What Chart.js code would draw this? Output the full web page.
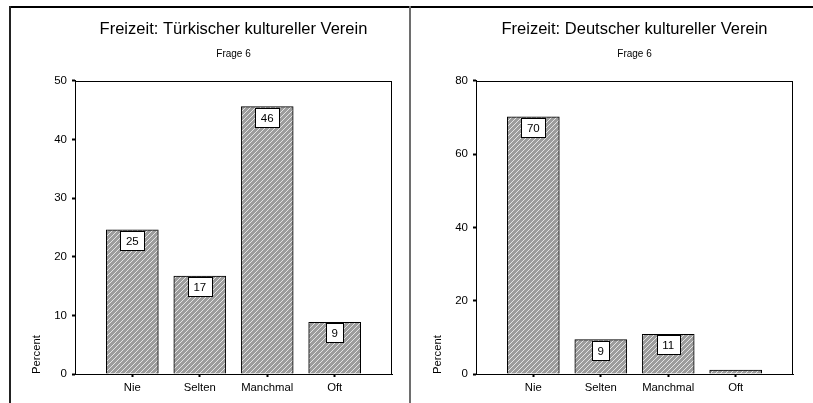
<!DOCTYPE html>
<html>
<head>
<meta charset="utf-8">
<script src="https://cdn.jsdelivr.net/npm/chart.js@4/dist/chart.umd.min.js"></script>
<style>
  html, body { margin: 0; padding: 0; background: #fff; }
  #wrap { position: relative; width: 813px; height: 403px; overflow: hidden; background: #fff; }
  .line { position: absolute; }
  canvas { position: absolute; }
</style>
</head>
<body>
<div id="wrap">
  <div class="line" style="left:9px; top:6px; width:804px; height:1.5px; background:#000;"></div>
  <div class="line" style="left:9px; top:6px; width:1.5px; height:397px; background:#222;"></div>
  <div class="line" style="left:409px; top:6px; width:2px; height:397px; background:#6e6e6e;"></div>
  <canvas id="c1" width="398" height="396" style="left:11px; top:7px;"></canvas>
  <canvas id="c2" width="401" height="396" style="left:412px; top:7px;"></canvas>
</div>
<script>
// ---- data ----
const categories = ['Nie', 'Selten', 'Manchmal', 'Oft'];
const tuerkischValues = [24.6, 16.7, 45.6, 8.8];
const tuerkischLabels = ['25', '17', '46', '9'];
const deutschValues = [70.2, 9.4, 10.8, 1.1];
const deutschLabels = ['70', '9', '11', ''];
const titleTuerkisch = 'Freizeit: Türkischer kultureller Verein';
const titleDeutsch = 'Freizeit: Deutscher kultureller Verein';
const subtitleText = 'Frage 6';
const yLabel = 'Percent';

const FONT = "'Liberation Sans', Arial, sans-serif";

function makePattern() {
  const s = 5;
  const c = document.createElement('canvas');
  c.width = s; c.height = s;
  const g = c.getContext('2d');
  g.fillStyle = '#9c9c9c';
  g.fillRect(0, 0, s, s);
  g.strokeStyle = 'rgba(245,245,245,0.9)';
  g.lineWidth = 0.9;
  g.beginPath();
  g.moveTo(-1, s + 1); g.lineTo(s + 1, -1);
  g.moveTo(-1, 1); g.lineTo(1, -1);
  g.moveTo(s - 1, s + 1); g.lineTo(s + 1, s - 1);
  g.stroke();
  return g.createPattern(c, 'repeat');
}

const frameAndLabels = {
  id: 'frameAndLabels',
  afterDatasetsDraw(chart, args, opts) {
    const ctx = chart.ctx;
    const a = chart.chartArea;
    ctx.save();
    ctx.strokeStyle = '#000';
    ctx.lineWidth = 1;
    ctx.strokeRect(Math.round(a.left) + 0.5, Math.round(a.top) + 0.5,
                   Math.round(a.right - a.left) - 1, Math.round(a.bottom - a.top));
    const labels = opts.labels || [];
    const meta = chart.getDatasetMeta(0);
    ctx.font = '11.5px ' + FONT;
    ctx.textAlign = 'center';
    ctx.textBaseline = 'middle';
    meta.data.forEach((bar, i) => {
      const txt = labels[i];
      if (!txt) return;
      const w = Math.round(ctx.measureText(txt).width) + 11;
      const h = 19;
      const x = Math.round(bar.x - w / 2) + 0.5;
      const y = Math.round(bar.y) + 1.5;
      ctx.fillStyle = '#fff';
      ctx.fillRect(x, y, w, h);
      ctx.strokeStyle = '#000';
      ctx.strokeRect(x, y, w, h);
      ctx.fillStyle = '#000';
      ctx.fillText(txt, bar.x, y + h / 2 + 0.5);
    });
    ctx.restore();
  }
};

function buildChart(id, values, labels, title, yMax, yStep, yWidth, rightPad) {
  const pattern = makePattern();
  return new Chart(document.getElementById(id), {
    type: 'bar',
    data: {
      datasets: [{
        data: categories.map((c, i) => ({ x: i + 1, y: values[i] })),
        backgroundColor: pattern,
        borderColor: '#000',
        borderWidth: 1,
        barThickness: 52
      }]
    },
    options: {
      responsive: false,
      animation: false,
      devicePixelRatio: 1,
      layout: { padding: { left: 0, right: rightPad, top: 0, bottom: 0 } },
      plugins: {
        legend: { display: false },
        tooltip: { enabled: false },
        title: {
          display: true, text: title, fullSize: false, color: '#000',
          font: { family: FONT, size: 16.5, weight: 'normal' },
          padding: { top: 13, bottom: 0 }
        },
        subtitle: {
          display: true, text: subtitleText, fullSize: false, color: '#000',
          font: { family: FONT, size: 10, weight: 'normal' },
          padding: { top: 8, bottom: 21 }
        },
        frameAndLabels: { labels: labels }
      },
      scales: {
        x: {
          type: 'linear',
          offset: false,
          min: 0.15, max: 4.85,
          afterBuildTicks: (s) => { s.ticks = categories.map((c, i) => ({ value: i + 1 })); },
          afterFit: (s) => { s.height = 29; },
          ticks: {
            callback: (v) => categories[Math.round(v) - 1] || '',
            color: '#000', font: { family: FONT, size: 11.3 },
            padding: 4, autoSkip: false, maxRotation: 0
          },
          grid: { display: true, offset: false, drawOnChartArea: false, tickLength: 3, tickWidth: 2, color: '#000' },
          border: { display: true, color: '#000', width: 1 }
        },
        y: {
          min: 0, max: yMax,
          afterFit: (s) => { s.width = yWidth; },
          ticks: { stepSize: yStep, color: '#000', font: { family: FONT, size: 11.5 }, padding: 5 },
          grid: { display: true, drawOnChartArea: false, tickLength: 3, tickWidth: 2, color: '#000' },
          border: { display: true, color: '#000', width: 1 },
          title: {
            display: true, text: yLabel, align: 'start', color: '#000',
            font: { family: FONT, size: 11.3 }, padding: { top: 19, bottom: 0 }
          }
        }
      }
    },
    plugins: [frameAndLabels]
  });
}

buildChart('c1', tuerkischValues, tuerkischLabels, titleTuerkisch, 50, 10, 64, 17);
buildChart('c2', deutschValues, deutschLabels, titleDeutsch, 80, 20, 64, 20);
</script>
</body>
</html>
